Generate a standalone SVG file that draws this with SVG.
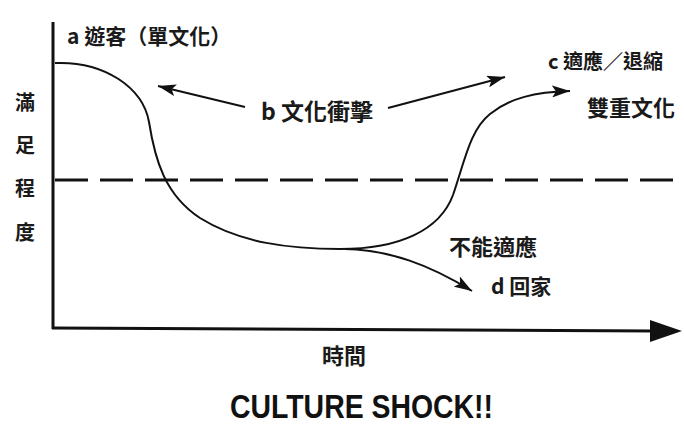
<svg xmlns="http://www.w3.org/2000/svg" width="684" height="427" viewBox="0 0 684 427">
<style>
.t{font-family:"Noto Sans CJK TC","Noto Sans CJK SC",sans-serif;font-weight:700;fill:#1a1a1a}
.crv{fill:none;stroke:#111;stroke-width:2}
.ax{fill:none;stroke:#111;stroke-width:3}
</style>
<defs>
<marker id="ah" markerUnits="userSpaceOnUse" markerWidth="20" markerHeight="12" refX="18" refY="6" orient="auto">
<path d="M0,0 L18,6 L0,12 L4,6 Z" fill="#111"/>
</marker>
</defs>
<rect width="684" height="427" fill="#ffffff"/>
<g id="axes">
<line class="ax" x1="53" y1="22" x2="53" y2="329"/>
<line class="ax" x1="52" y1="328" x2="655" y2="331"/>
<polygon points="650,320 682,331 650,342" fill="#111"/>
</g>
<g id="threshold">
<line x1="55" y1="180" x2="682" y2="180" stroke="#111" stroke-width="3" stroke-dasharray="33 12"/>
</g>
<g id="connectors">
<path id="curve-main" class="crv" d="M55,63 C105,61 143,88 149,122 C155,160 165,195 200,218 C240,243 290,249 340,249"/>
<path id="curve-c" class="crv" marker-end="url(#ah)" d="M340,249 C400,249 440,230 453,195 C465,160 470,130 490,114 C510,98 535,92 570,91"/>
<path id="curve-d" class="crv" marker-end="url(#ah)" d="M345,249 C390,250 430,265 472,291"/>
<line id="b-left" class="crv" marker-end="url(#ah)" x1="245" y1="107" x2="158" y2="86"/>
<line id="b-right" class="crv" marker-end="url(#ah)" x1="388" y1="108" x2="505" y2="77"/>
</g>
<g id="node-a"><text class="t" x="67" y="43.5" font-size="21">a 遊客（單文化）</text></g>
<g id="node-b"><text class="t" x="261" y="120" font-size="23">b 文化衝擊</text></g>
<g id="node-c">
<text class="t" x="548" y="68.5" font-size="20">c 適應／退縮</text>
<text class="t" x="587" y="115.5" font-size="22">雙重文化</text>
</g>
<g id="node-d">
<text class="t" x="449" y="254.5" font-size="22">不能適應</text>
<text class="t" x="491" y="293.5" font-size="21">d 回家</text>
</g>
<g id="y-label">
<text class="t" x="25" y="110" font-size="20" text-anchor="middle">滿</text>
<text class="t" x="25" y="153" font-size="20" text-anchor="middle">足</text>
<text class="t" x="25" y="196" font-size="20" text-anchor="middle">程</text>
<text class="t" x="25" y="240" font-size="20" text-anchor="middle">度</text>
</g>
<g id="x-label"><text class="t" x="344" y="363.5" font-size="22" text-anchor="middle">時間</text></g>
<g id="title"><text x="230" y="418" font-family="'Liberation Sans',sans-serif" font-weight="700" font-size="34" textLength="263" lengthAdjust="spacingAndGlyphs" fill="#111">CULTURE SHOCK!!</text></g>
</svg>
